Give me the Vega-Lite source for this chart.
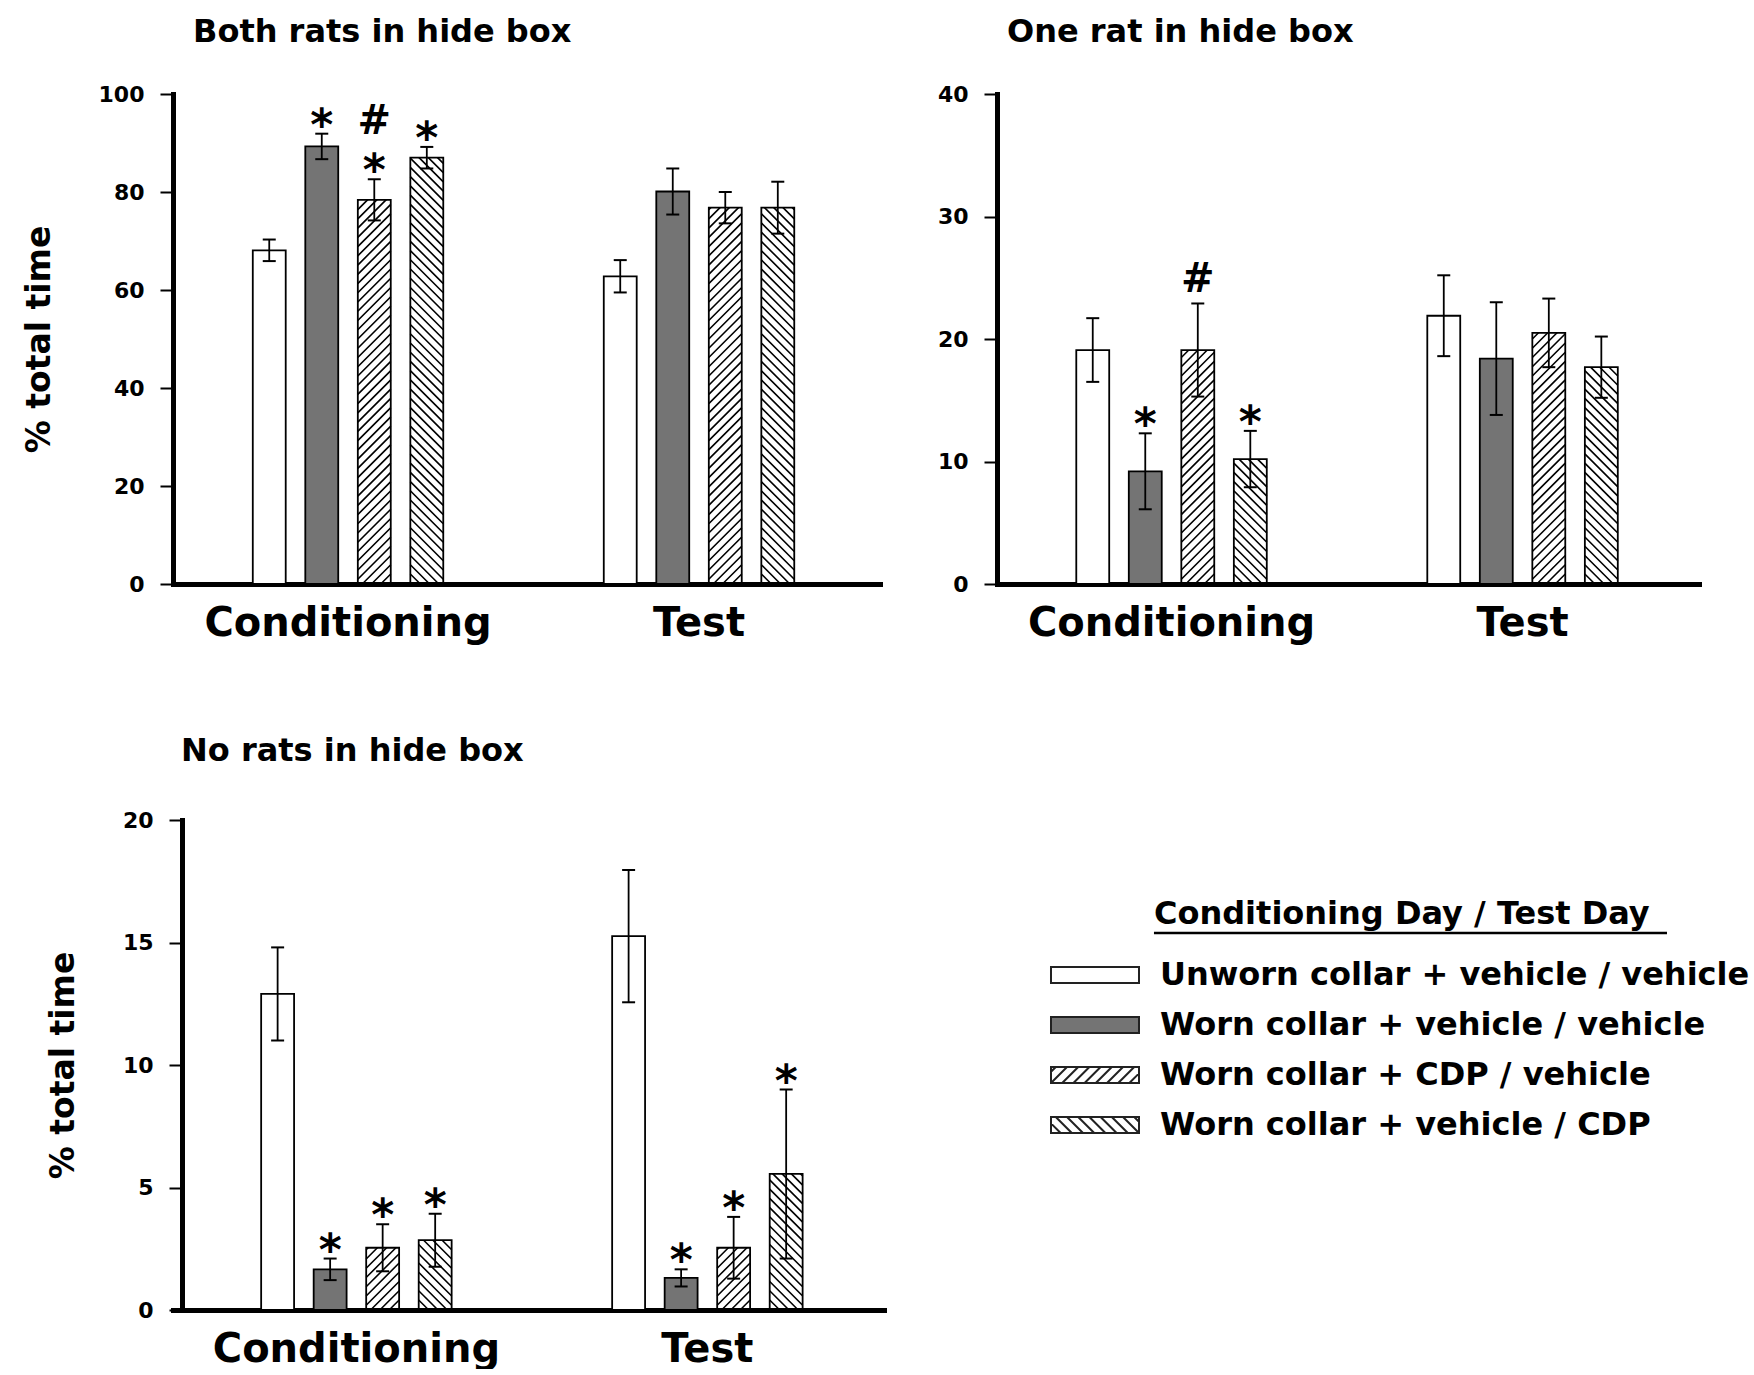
{
  "$schema": "https://vega.github.io/schema/vega-lite/v6.json",
  "background": "white",
  "padding": {"left": 23, "top": 16, "right": 5, "bottom": 0},
  "config": {
    "font": "DejaVu Sans",
    "view": {"stroke": null},
    "axis": {"labelFont": "DejaVu Sans", "labelFontWeight": "bold", "labelColor": "black", "titleFont": "DejaVu Sans", "titleFontWeight": "bold", "titleColor": "black", "domainColor": "black", "tickColor": "black", "grid": false, "zindex": 1, "domainCap": "square"},
    "axisY": {"labelFontSize": 22, "tickSize": 13, "tickWidth": 2, "labelPadding": 16, "domainWidth": 5, "titleFontSize": 33, "titlePadding": 42},
    "axisX": {"labelFontSize": 40, "ticks": false, "labelPadding": 19, "domainWidth": 5, "labelAngle": 0, "labelLimit": 0},
    "title": {"font": "DejaVu Sans", "fontSize": 32, "fontWeight": "bold", "color": "black", "anchor": "start", "frame": "group", "baseline": "alphabetic"}
  },
  "datasets": {
    "bars": [
      {"panel": "both", "phase": "Conditioning", "group": "Unworn collar + vehicle / vehicle", "mean": 68.1, "lo": 65.9, "hi": 70.3, "sig": ""},
      {"panel": "both", "phase": "Conditioning", "group": "Worn collar + vehicle / vehicle", "mean": 89.3, "lo": 86.7, "hi": 91.9, "sig": "*"},
      {"panel": "both", "phase": "Conditioning", "group": "Worn collar + CDP / vehicle", "mean": 78.4, "lo": 74.2, "hi": 82.6, "sig": "*#"},
      {"panel": "both", "phase": "Conditioning", "group": "Worn collar + vehicle / CDP", "mean": 87.0, "lo": 84.8, "hi": 89.2, "sig": "*"},
      {"panel": "both", "phase": "Test", "group": "Unworn collar + vehicle / vehicle", "mean": 62.8, "lo": 59.5, "hi": 66.1, "sig": ""},
      {"panel": "both", "phase": "Test", "group": "Worn collar + vehicle / vehicle", "mean": 80.1, "lo": 75.4, "hi": 84.8, "sig": ""},
      {"panel": "both", "phase": "Test", "group": "Worn collar + CDP / vehicle", "mean": 76.8, "lo": 73.6, "hi": 80.0, "sig": ""},
      {"panel": "both", "phase": "Test", "group": "Worn collar + vehicle / CDP", "mean": 76.8, "lo": 71.5, "hi": 82.1, "sig": ""},
      {"panel": "one", "phase": "Conditioning", "group": "Unworn collar + vehicle / vehicle", "mean": 19.1, "lo": 16.5, "hi": 21.7, "sig": ""},
      {"panel": "one", "phase": "Conditioning", "group": "Worn collar + vehicle / vehicle", "mean": 9.2, "lo": 6.1, "hi": 12.3, "sig": "*"},
      {"panel": "one", "phase": "Conditioning", "group": "Worn collar + CDP / vehicle", "mean": 19.1, "lo": 15.3, "hi": 22.9, "sig": "#"},
      {"panel": "one", "phase": "Conditioning", "group": "Worn collar + vehicle / CDP", "mean": 10.2, "lo": 7.9, "hi": 12.5, "sig": "*"},
      {"panel": "one", "phase": "Test", "group": "Unworn collar + vehicle / vehicle", "mean": 21.9, "lo": 18.6, "hi": 25.2, "sig": ""},
      {"panel": "one", "phase": "Test", "group": "Worn collar + vehicle / vehicle", "mean": 18.4, "lo": 13.8, "hi": 23.0, "sig": ""},
      {"panel": "one", "phase": "Test", "group": "Worn collar + CDP / vehicle", "mean": 20.5, "lo": 17.7, "hi": 23.3, "sig": ""},
      {"panel": "one", "phase": "Test", "group": "Worn collar + vehicle / CDP", "mean": 17.7, "lo": 15.2, "hi": 20.2, "sig": ""},
      {"panel": "none", "phase": "Conditioning", "group": "Unworn collar + vehicle / vehicle", "mean": 12.9, "lo": 11.0, "hi": 14.8, "sig": ""},
      {"panel": "none", "phase": "Conditioning", "group": "Worn collar + vehicle / vehicle", "mean": 1.66, "lo": 1.22, "hi": 2.1, "sig": "*"},
      {"panel": "none", "phase": "Conditioning", "group": "Worn collar + CDP / vehicle", "mean": 2.54, "lo": 1.58, "hi": 3.5, "sig": "*"},
      {"panel": "none", "phase": "Conditioning", "group": "Worn collar + vehicle / CDP", "mean": 2.85, "lo": 1.77, "hi": 3.93, "sig": "*"},
      {"panel": "none", "phase": "Test", "group": "Unworn collar + vehicle / vehicle", "mean": 15.26, "lo": 12.56, "hi": 17.96, "sig": ""},
      {"panel": "none", "phase": "Test", "group": "Worn collar + vehicle / vehicle", "mean": 1.31, "lo": 0.96, "hi": 1.66, "sig": "*"},
      {"panel": "none", "phase": "Test", "group": "Worn collar + CDP / vehicle", "mean": 2.54, "lo": 1.28, "hi": 3.8, "sig": "*"},
      {"panel": "none", "phase": "Test", "group": "Worn collar + vehicle / CDP", "mean": 5.56, "lo": 2.1, "hi": 9.0, "sig": "*"}
    ],
    "groups": [
      {"group": "Unworn collar + vehicle / vehicle"},
      {"group": "Worn collar + vehicle / vehicle"},
      {"group": "Worn collar + CDP / vehicle"},
      {"group": "Worn collar + vehicle / CDP"}
    ]
  },
  "columns": 2,
  "spacing": {"row": 236, "column": 113},
  "bounds": "flush",
  "align": "all",
  "resolve": {"scale": {"xOffset": "independent"}},
  "concat": [
    {
      "width": 707, "height": 490,
      "title": {"text": "Both rats in hide box", "dx": 20, "offset": 34},
      "data": {"name": "bars"},
      "transform": [{"filter": "datum.panel === 'both'"}],
      "encoding": {
        "x": {"field": "phase", "type": "nominal", "title": null, "scale": {"domain": ["Conditioning", "Test"], "paddingInner": 0.4573, "paddingOuter": 0.2358, "align": 0.482}},
        "xOffset": {"field": "group", "type": "nominal", "scale": {"domain": ["Unworn collar + vehicle / vehicle", "Worn collar + vehicle / vehicle", "Worn collar + CDP / vehicle", "Worn collar + vehicle / CDP"], "paddingInner": 0.373, "paddingOuter": 0}}
      },
      "layer": [
        {"transform": [{"filter": "datum.group === 'Worn collar + CDP / vehicle'"}],
         "mark": {"type": "point", "shape": "M0.39,14.85L1,14.24M-0.17,14.85L1,13.68M-0.73,14.85L1,13.12M-1,14.56l2,-2M-1,14l2,-2M-1,13.44l2,-2M-1,12.88l2,-2M-1,12.32l2,-2M-1,11.76l2,-2M-1,11.2l2,-2M-1,10.64l2,-2M-1,10.08l2,-2M-1,9.52l2,-2M-1,8.96l2,-2M-1,8.4l2,-2M-1,7.84l2,-2M-1,7.28l2,-2M-1,6.72l2,-2M-1,6.16l2,-2M-1,5.6l2,-2M-1,5.04l2,-2M-1,4.48l2,-2M-1,3.92l2,-2M-1,3.36l2,-2M-1,2.8l2,-2M-1,2.24l2,-2M-1,1.68l2,-2M-1,1.12l2,-2M-1,0.56l2,-2M-1,0l2,-2M-1,-0.56l2,-2M-1,-1.12l2,-2M-1,-1.68l2,-2M-1,-2.24l2,-2M-1,-2.8l2,-2M-1,-3.36l2,-2M-1,-3.92l2,-2M-1,-4.48l2,-2M-1,-5.04l2,-2M-1,-5.6l2,-2M-1,-6.16l2,-2M-1,-6.72l2,-2M-1,-7.28l2,-2M-1,-7.84l2,-2M-1,-8.4l2,-2M-1,-8.96l2,-2M-1,-9.52l2,-2M-1,-10.08l2,-2M-1,-10.64l2,-2M-1,-11.2l2,-2M-1,-11.76l2,-2M-1,-12.32l2,-2", "size": 1089, "filled": false, "opacity": 1, "stroke": "black", "strokeWidth": 1.6},
         "encoding": {"y": {"datum": 50, "type": "quantitative"}}},
        {"transform": [{"filter": "datum.group === 'Worn collar + vehicle / CDP'"}],
         "mark": {"type": "point", "shape": "M-0.39,14.85L-1,14.24M0.17,14.85L-1,13.68M0.73,14.85L-1,13.12M1,14.56l-2,-2M1,14l-2,-2M1,13.44l-2,-2M1,12.88l-2,-2M1,12.32l-2,-2M1,11.76l-2,-2M1,11.2l-2,-2M1,10.64l-2,-2M1,10.08l-2,-2M1,9.52l-2,-2M1,8.96l-2,-2M1,8.4l-2,-2M1,7.84l-2,-2M1,7.28l-2,-2M1,6.72l-2,-2M1,6.16l-2,-2M1,5.6l-2,-2M1,5.04l-2,-2M1,4.48l-2,-2M1,3.92l-2,-2M1,3.36l-2,-2M1,2.8l-2,-2M1,2.24l-2,-2M1,1.68l-2,-2M1,1.12l-2,-2M1,0.56l-2,-2M1,0l-2,-2M1,-0.56l-2,-2M1,-1.12l-2,-2M1,-1.68l-2,-2M1,-2.24l-2,-2M1,-2.8l-2,-2M1,-3.36l-2,-2M1,-3.92l-2,-2M1,-4.48l-2,-2M1,-5.04l-2,-2M1,-5.6l-2,-2M1,-6.16l-2,-2M1,-6.72l-2,-2M1,-7.28l-2,-2M1,-7.84l-2,-2M1,-8.4l-2,-2M1,-8.96l-2,-2M1,-9.52l-2,-2M1,-10.08l-2,-2M1,-10.64l-2,-2M1,-11.2l-2,-2M1,-11.76l-2,-2M1,-12.32l-2,-2", "size": 1089, "filled": false, "opacity": 1, "stroke": "black", "strokeWidth": 1.6},
         "encoding": {"y": {"datum": 50, "type": "quantitative"}}},
        {"transform": [{"filter": "datum.group === 'Worn collar + CDP / vehicle' || datum.group === 'Worn collar + vehicle / CDP'"}],
         "mark": {"type": "bar", "fill": "white", "width": 37},
         "encoding": {"y": {"field": "mean", "type": "quantitative"}, "y2": {"datum": 100}}},
        {"mark": {"type": "bar", "stroke": "black", "strokeWidth": 1.8},
         "encoding": {
           "y": {"field": "mean", "type": "quantitative", "scale": {"domain": [0, 100], "nice": false}, "axis": {"values": [0, 20, 40, 60, 80, 100], "title": "% total time"}},
           "fill": {"field": "group", "type": "nominal", "scale": {"domain": ["Unworn collar + vehicle / vehicle", "Worn collar + vehicle / vehicle", "Worn collar + CDP / vehicle", "Worn collar + vehicle / CDP"], "range": ["white", "#747474", "rgba(255,255,255,0)", "rgba(255,255,255,0)"]}, "legend": null}}},
        {"mark": {"type": "rule", "color": "black", "strokeWidth": 1.8},
         "encoding": {"y": {"field": "lo", "type": "quantitative"}, "y2": {"field": "hi"}}},
        {"mark": {"type": "tick", "color": "black", "size": 13, "thickness": 2, "opacity": 1},
         "encoding": {"y": {"field": "lo", "type": "quantitative"}}},
        {"mark": {"type": "tick", "color": "black", "size": 13, "thickness": 2, "opacity": 1},
         "encoding": {"y": {"field": "hi", "type": "quantitative"}}},
        {"transform": [{"filter": "indexof(datum.sig, '*') >= 0"}],
         "mark": {"type": "text", "text": "*", "fontSize": 44, "fontWeight": "bold", "baseline": "alphabetic", "dy": 6, "color": "black"},
         "encoding": {"y": {"field": "hi", "type": "quantitative"}}},
        {"transform": [{"filter": "datum.sig === '#'"}],
         "mark": {"type": "text", "text": "#", "fontSize": 40, "fontWeight": "bold", "baseline": "alphabetic", "dy": -11, "color": "black"},
         "encoding": {"y": {"field": "hi", "type": "quantitative"}}},
        {"transform": [{"filter": "datum.sig === '*#'"}],
         "mark": {"type": "text", "text": "#", "fontSize": 40, "fontWeight": "bold", "baseline": "alphabetic", "dy": -45, "color": "black"},
         "encoding": {"y": {"field": "hi", "type": "quantitative"}}}
      ]
    },
    {
      "width": 702, "height": 490,
      "title": {"text": "One rat in hide box", "dx": 10, "offset": 34},
      "data": {"name": "bars"},
      "transform": [{"filter": "datum.panel === 'one'"}],
      "encoding": {
        "x": {"field": "phase", "type": "nominal", "title": null, "scale": {"domain": ["Conditioning", "Test"], "paddingInner": 0.4573, "paddingOuter": 0.2286, "align": 0.494}},
        "xOffset": {"field": "group", "type": "nominal", "scale": {"domain": ["Unworn collar + vehicle / vehicle", "Worn collar + vehicle / vehicle", "Worn collar + CDP / vehicle", "Worn collar + vehicle / CDP"], "paddingInner": 0.373, "paddingOuter": 0}}
      },
      "layer": [
        {"transform": [{"filter": "datum.group === 'Worn collar + CDP / vehicle'"}],
         "mark": {"type": "point", "shape": "M0.39,14.85L1,14.24M-0.17,14.85L1,13.68M-0.73,14.85L1,13.12M-1,14.56l2,-2M-1,14l2,-2M-1,13.44l2,-2M-1,12.88l2,-2M-1,12.32l2,-2M-1,11.76l2,-2M-1,11.2l2,-2M-1,10.64l2,-2M-1,10.08l2,-2M-1,9.52l2,-2M-1,8.96l2,-2M-1,8.4l2,-2M-1,7.84l2,-2M-1,7.28l2,-2M-1,6.72l2,-2M-1,6.16l2,-2M-1,5.6l2,-2M-1,5.04l2,-2M-1,4.48l2,-2M-1,3.92l2,-2M-1,3.36l2,-2M-1,2.8l2,-2M-1,2.24l2,-2M-1,1.68l2,-2M-1,1.12l2,-2M-1,0.56l2,-2M-1,0l2,-2M-1,-0.56l2,-2M-1,-1.12l2,-2M-1,-1.68l2,-2M-1,-2.24l2,-2M-1,-2.8l2,-2M-1,-3.36l2,-2M-1,-3.92l2,-2M-1,-4.48l2,-2M-1,-5.04l2,-2M-1,-5.6l2,-2M-1,-6.16l2,-2M-1,-6.72l2,-2M-1,-7.28l2,-2M-1,-7.84l2,-2M-1,-8.4l2,-2M-1,-8.96l2,-2M-1,-9.52l2,-2M-1,-10.08l2,-2M-1,-10.64l2,-2M-1,-11.2l2,-2M-1,-11.76l2,-2M-1,-12.32l2,-2", "size": 1089, "filled": false, "opacity": 1, "stroke": "black", "strokeWidth": 1.6},
         "encoding": {"y": {"datum": 20, "type": "quantitative"}}},
        {"transform": [{"filter": "datum.group === 'Worn collar + vehicle / CDP'"}],
         "mark": {"type": "point", "shape": "M-0.39,14.85L-1,14.24M0.17,14.85L-1,13.68M0.73,14.85L-1,13.12M1,14.56l-2,-2M1,14l-2,-2M1,13.44l-2,-2M1,12.88l-2,-2M1,12.32l-2,-2M1,11.76l-2,-2M1,11.2l-2,-2M1,10.64l-2,-2M1,10.08l-2,-2M1,9.52l-2,-2M1,8.96l-2,-2M1,8.4l-2,-2M1,7.84l-2,-2M1,7.28l-2,-2M1,6.72l-2,-2M1,6.16l-2,-2M1,5.6l-2,-2M1,5.04l-2,-2M1,4.48l-2,-2M1,3.92l-2,-2M1,3.36l-2,-2M1,2.8l-2,-2M1,2.24l-2,-2M1,1.68l-2,-2M1,1.12l-2,-2M1,0.56l-2,-2M1,0l-2,-2M1,-0.56l-2,-2M1,-1.12l-2,-2M1,-1.68l-2,-2M1,-2.24l-2,-2M1,-2.8l-2,-2M1,-3.36l-2,-2M1,-3.92l-2,-2M1,-4.48l-2,-2M1,-5.04l-2,-2M1,-5.6l-2,-2M1,-6.16l-2,-2M1,-6.72l-2,-2M1,-7.28l-2,-2M1,-7.84l-2,-2M1,-8.4l-2,-2M1,-8.96l-2,-2M1,-9.52l-2,-2M1,-10.08l-2,-2M1,-10.64l-2,-2M1,-11.2l-2,-2M1,-11.76l-2,-2M1,-12.32l-2,-2", "size": 1089, "filled": false, "opacity": 1, "stroke": "black", "strokeWidth": 1.6},
         "encoding": {"y": {"datum": 20, "type": "quantitative"}}},
        {"transform": [{"filter": "datum.group === 'Worn collar + CDP / vehicle' || datum.group === 'Worn collar + vehicle / CDP'"}],
         "mark": {"type": "bar", "fill": "white", "width": 37},
         "encoding": {"y": {"field": "mean", "type": "quantitative"}, "y2": {"datum": 40}}},
        {"mark": {"type": "bar", "stroke": "black", "strokeWidth": 1.8},
         "encoding": {
           "y": {"field": "mean", "type": "quantitative", "scale": {"domain": [0, 40], "nice": false}, "axis": {"values": [0, 10, 20, 30, 40], "title": null}},
           "fill": {"field": "group", "type": "nominal", "scale": {"domain": ["Unworn collar + vehicle / vehicle", "Worn collar + vehicle / vehicle", "Worn collar + CDP / vehicle", "Worn collar + vehicle / CDP"], "range": ["white", "#747474", "rgba(255,255,255,0)", "rgba(255,255,255,0)"]}, "legend": null}}},
        {"mark": {"type": "rule", "color": "black", "strokeWidth": 1.8},
         "encoding": {"y": {"field": "lo", "type": "quantitative"}, "y2": {"field": "hi"}}},
        {"mark": {"type": "tick", "color": "black", "size": 13, "thickness": 2, "opacity": 1},
         "encoding": {"y": {"field": "lo", "type": "quantitative"}}},
        {"mark": {"type": "tick", "color": "black", "size": 13, "thickness": 2, "opacity": 1},
         "encoding": {"y": {"field": "hi", "type": "quantitative"}}},
        {"transform": [{"filter": "indexof(datum.sig, '*') >= 0"}],
         "mark": {"type": "text", "text": "*", "fontSize": 44, "fontWeight": "bold", "baseline": "alphabetic", "dy": 6, "color": "black"},
         "encoding": {"y": {"field": "hi", "type": "quantitative"}}},
        {"transform": [{"filter": "datum.sig === '#'"}],
         "mark": {"type": "text", "text": "#", "fontSize": 40, "fontWeight": "bold", "baseline": "alphabetic", "dy": -11, "color": "black"},
         "encoding": {"y": {"field": "hi", "type": "quantitative"}}},
        {"transform": [{"filter": "datum.sig === '*#'"}],
         "mark": {"type": "text", "text": "#", "fontSize": 40, "fontWeight": "bold", "baseline": "alphabetic", "dy": -45, "color": "black"},
         "encoding": {"y": {"field": "hi", "type": "quantitative"}}}
      ]
    },
    {
      "width": 711, "height": 490,
      "title": {"text": "No rats in hide box", "dx": 8, "offset": 41},
      "data": {"name": "bars"},
      "transform": [{"filter": "datum.panel === 'none'"}],
      "encoding": {
        "x": {"field": "phase", "type": "nominal", "title": null, "scale": {"domain": ["Conditioning", "Test"], "paddingInner": 0.4573, "paddingOuter": 0.2415, "align": 0.52}},
        "xOffset": {"field": "group", "type": "nominal", "scale": {"domain": ["Unworn collar + vehicle / vehicle", "Worn collar + vehicle / vehicle", "Worn collar + CDP / vehicle", "Worn collar + vehicle / CDP"], "paddingInner": 0.373, "paddingOuter": 0}}
      },
      "layer": [
        {"transform": [{"filter": "datum.group === 'Worn collar + CDP / vehicle'"}],
         "mark": {"type": "point", "shape": "M0.39,14.85L1,14.24M-0.17,14.85L1,13.68M-0.73,14.85L1,13.12M-1,14.56l2,-2M-1,14l2,-2M-1,13.44l2,-2M-1,12.88l2,-2M-1,12.32l2,-2M-1,11.76l2,-2M-1,11.2l2,-2M-1,10.64l2,-2M-1,10.08l2,-2M-1,9.52l2,-2M-1,8.96l2,-2M-1,8.4l2,-2M-1,7.84l2,-2M-1,7.28l2,-2M-1,6.72l2,-2M-1,6.16l2,-2M-1,5.6l2,-2M-1,5.04l2,-2M-1,4.48l2,-2M-1,3.92l2,-2M-1,3.36l2,-2M-1,2.8l2,-2M-1,2.24l2,-2M-1,1.68l2,-2M-1,1.12l2,-2M-1,0.56l2,-2M-1,0l2,-2M-1,-0.56l2,-2M-1,-1.12l2,-2M-1,-1.68l2,-2M-1,-2.24l2,-2M-1,-2.8l2,-2M-1,-3.36l2,-2M-1,-3.92l2,-2M-1,-4.48l2,-2M-1,-5.04l2,-2M-1,-5.6l2,-2M-1,-6.16l2,-2M-1,-6.72l2,-2M-1,-7.28l2,-2M-1,-7.84l2,-2M-1,-8.4l2,-2M-1,-8.96l2,-2M-1,-9.52l2,-2M-1,-10.08l2,-2M-1,-10.64l2,-2M-1,-11.2l2,-2M-1,-11.76l2,-2M-1,-12.32l2,-2", "size": 1089, "filled": false, "opacity": 1, "stroke": "black", "strokeWidth": 1.6},
         "encoding": {"y": {"datum": 10, "type": "quantitative"}}},
        {"transform": [{"filter": "datum.group === 'Worn collar + vehicle / CDP'"}],
         "mark": {"type": "point", "shape": "M-0.39,14.85L-1,14.24M0.17,14.85L-1,13.68M0.73,14.85L-1,13.12M1,14.56l-2,-2M1,14l-2,-2M1,13.44l-2,-2M1,12.88l-2,-2M1,12.32l-2,-2M1,11.76l-2,-2M1,11.2l-2,-2M1,10.64l-2,-2M1,10.08l-2,-2M1,9.52l-2,-2M1,8.96l-2,-2M1,8.4l-2,-2M1,7.84l-2,-2M1,7.28l-2,-2M1,6.72l-2,-2M1,6.16l-2,-2M1,5.6l-2,-2M1,5.04l-2,-2M1,4.48l-2,-2M1,3.92l-2,-2M1,3.36l-2,-2M1,2.8l-2,-2M1,2.24l-2,-2M1,1.68l-2,-2M1,1.12l-2,-2M1,0.56l-2,-2M1,0l-2,-2M1,-0.56l-2,-2M1,-1.12l-2,-2M1,-1.68l-2,-2M1,-2.24l-2,-2M1,-2.8l-2,-2M1,-3.36l-2,-2M1,-3.92l-2,-2M1,-4.48l-2,-2M1,-5.04l-2,-2M1,-5.6l-2,-2M1,-6.16l-2,-2M1,-6.72l-2,-2M1,-7.28l-2,-2M1,-7.84l-2,-2M1,-8.4l-2,-2M1,-8.96l-2,-2M1,-9.52l-2,-2M1,-10.08l-2,-2M1,-10.64l-2,-2M1,-11.2l-2,-2M1,-11.76l-2,-2M1,-12.32l-2,-2", "size": 1089, "filled": false, "opacity": 1, "stroke": "black", "strokeWidth": 1.6},
         "encoding": {"y": {"datum": 10, "type": "quantitative"}}},
        {"transform": [{"filter": "datum.group === 'Worn collar + CDP / vehicle' || datum.group === 'Worn collar + vehicle / CDP'"}],
         "mark": {"type": "bar", "fill": "white", "width": 37},
         "encoding": {"y": {"field": "mean", "type": "quantitative"}, "y2": {"datum": 20}}},
        {"mark": {"type": "bar", "stroke": "black", "strokeWidth": 1.8},
         "encoding": {
           "y": {"field": "mean", "type": "quantitative", "scale": {"domain": [0, 20], "nice": false}, "axis": {"values": [0, 5, 10, 15, 20], "title": "% total time", "offset": -9}},
           "fill": {"field": "group", "type": "nominal", "scale": {"domain": ["Unworn collar + vehicle / vehicle", "Worn collar + vehicle / vehicle", "Worn collar + CDP / vehicle", "Worn collar + vehicle / CDP"], "range": ["white", "#747474", "rgba(255,255,255,0)", "rgba(255,255,255,0)"]}, "legend": null}}},
        {"mark": {"type": "rule", "color": "black", "strokeWidth": 1.8},
         "encoding": {"y": {"field": "lo", "type": "quantitative"}, "y2": {"field": "hi"}}},
        {"mark": {"type": "tick", "color": "black", "size": 13, "thickness": 2, "opacity": 1},
         "encoding": {"y": {"field": "lo", "type": "quantitative"}}},
        {"mark": {"type": "tick", "color": "black", "size": 13, "thickness": 2, "opacity": 1},
         "encoding": {"y": {"field": "hi", "type": "quantitative"}}},
        {"transform": [{"filter": "indexof(datum.sig, '*') >= 0"}],
         "mark": {"type": "text", "text": "*", "fontSize": 44, "fontWeight": "bold", "baseline": "alphabetic", "dy": 6, "color": "black"},
         "encoding": {"y": {"field": "hi", "type": "quantitative"}}}
      ]
    },
    {
      "width": 702, "height": 350,
      "data": {"name": "groups"},
      "layer": [
        {"mark": {"type": "point", "filled": true, "opacity": 1, "size": 256, "stroke": "#222222", "strokeWidth": 2},
         "encoding": {
           "x": {"datum": 0.1396, "type": "quantitative", "scale": {"domain": [0, 1], "nice": false, "zero": false}, "axis": null},
           "y": {"field": "group", "type": "nominal", "scale": {"type": "band", "domain": ["hdr", "Unworn collar + vehicle / vehicle", "Worn collar + vehicle / vehicle", "Worn collar + CDP / vehicle", "Worn collar + vehicle / CDP"], "paddingInner": 0, "paddingOuter": 1, "align": 0.8}, "axis": null},
           "shape": {"field": "group", "type": "nominal", "scale": {"domain": ["Unworn collar + vehicle / vehicle", "Worn collar + vehicle / vehicle", "Worn collar + CDP / vehicle", "Worn collar + vehicle / CDP"], "range": ["M-5.5,-1H5.5V1H-5.5Z", "M-5.5,-1H5.5V1H-5.5Z", "M-5.5,-1H5.5V1H-5.5ZM-5.5,-0.4L-4.9,-1M-5.5,1L-3.5,-1M-4.1,1L-2.1,-1M-2.7,1L-0.7,-1M-1.3,1L0.7,-1M0.1,1L2.1,-1M1.5,1L3.5,-1M2.9,1L4.9,-1M4.3,1L5.5,-0.2", "M-5.5,-1H5.5V1H-5.5ZM5.5,-0.4L4.9,-1M5.5,1L3.5,-1M4.1,1L2.1,-1M2.7,1L0.7,-1M1.3,1L-0.7,-1M-0.1,1L-2.1,-1M-1.5,1L-3.5,-1M-2.9,1L-4.9,-1M-4.3,1L-5.5,-0.2"]}, "legend": null},
           "fill": {"field": "group", "type": "nominal", "scale": {"domain": ["Unworn collar + vehicle / vehicle", "Worn collar + vehicle / vehicle", "Worn collar + CDP / vehicle", "Worn collar + vehicle / CDP"], "range": ["white", "#747474", "rgba(255,255,255,0)", "rgba(255,255,255,0)"]}, "legend": null}
         }},
        {"mark": {"type": "text", "align": "left", "baseline": "middle", "fontSize": 32, "fontWeight": "bold", "color": "black"},
         "encoding": {
           "x": {"datum": 0.2322, "type": "quantitative"},
           "y": {"field": "group", "type": "nominal"},
           "text": {"field": "group"}
         }},
        {"data": {"values": [{"label": "Conditioning Day / Test Day"}]},
         "layer": [
           {"mark": {"type": "text", "align": "left", "baseline": "middle", "fontSize": 32, "fontWeight": "bold", "color": "black"},
            "encoding": {
              "x": {"datum": 0.2236, "type": "quantitative"},
              "y": {"datum": "hdr", "type": "nominal", "bandPosition": 0.28},
              "text": {"field": "label"}
            }},
           {"mark": {"type": "rule", "strokeWidth": 2.5, "color": "black"},
            "encoding": {
              "x": {"datum": 0.2236, "type": "quantitative"},
              "x2": {"datum": 0.9544},
              "y": {"datum": "hdr", "type": "nominal", "bandPosition": 0.66}
            }}
         ]}
      ]
    }
  ]
}
